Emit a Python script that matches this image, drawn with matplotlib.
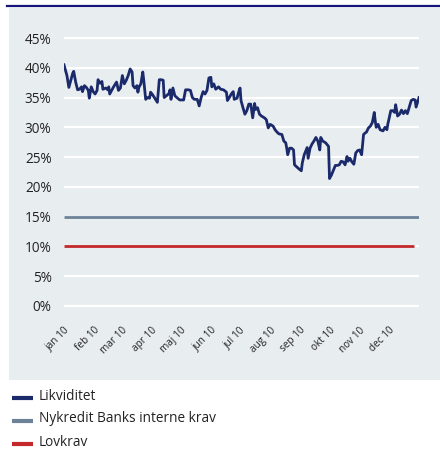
import matplotlib
matplotlib.use("Agg")
import matplotlib.pyplot as plt
from matplotlib.patches import Rectangle
from matplotlib.lines import Line2D

# ---- data ----
month_labels = ["jan 10", "feb 10", "mar 10", "apr 10", "maj 10", "jun 10",
                "jul 10", "aug 10", "sep 10", "okt 10", "nov 10", "dec 10"]
month_start_day = [0, 31, 59, 90, 120, 151, 181, 212, 243, 273, 304, 334]

likv_day = [0, 3, 5, 7, 9, 10, 12, 14, 16, 18, 19, 21, 23, 25, 26, 28, 30, 32, 34, 35,
            37, 39, 40, 43, 45, 46, 47, 49, 51, 54, 56, 58, 60, 62, 64, 66, 68, 70, 71, 73,
            75, 76, 77, 79, 81, 82, 84, 86, 88, 89, 91, 94, 96, 98, 100, 102, 103, 106, 108, 109,
            110, 112, 114, 116, 119, 123, 125, 128, 130, 132, 134, 137, 139, 141, 143, 145, 147, 149, 151, 152,
            154, 156, 159, 161, 164, 167, 168, 170, 172, 174, 175, 178, 179, 181, 182, 184, 186, 188, 190, 192,
            194, 196, 197, 199, 201, 203, 206, 208, 210, 212, 215, 217, 219, 221, 224, 226, 228, 229, 230, 232,
            234, 236, 237, 239, 241, 244, 245, 247, 249, 250, 251, 253, 255, 257, 259, 261, 263, 264, 266, 267,
            269, 272, 273, 275, 277, 279, 281, 283, 285, 287, 289, 291, 292, 294, 296, 298, 300, 302, 304, 306,
            308, 310, 311, 313, 315, 317, 319, 320, 321, 323, 325, 328, 330, 332, 333, 334, 336, 338, 340, 341,
            343, 345, 347, 349, 351, 353, 355, 357, 359, 361, 362, 365]
likv_val = [40.5, 38.7, 36.7, 37.9, 39.1, 39.4, 37.6, 36.3, 36.4, 36.8, 36.0, 37.0, 36.7, 36.2, 34.9, 36.8, 36.0, 35.6, 36.2, 38.0,
            37.4, 37.7, 36.4, 36.6, 36.3, 36.8, 35.6, 36.2, 36.8, 37.6, 36.2, 36.6, 38.7, 37.3, 37.9, 38.7, 39.8, 39.3, 37.0, 36.6,
            37.0, 35.9, 36.7, 37.3, 39.3, 37.9, 34.7, 35.0, 34.9, 35.9, 35.5, 34.7, 34.2, 38.0, 38.0, 37.9, 35.0, 35.4, 35.7, 36.3,
            34.7, 36.6, 35.3, 35.0, 34.6, 34.6, 36.3, 36.3, 36.2, 35.0, 34.7, 34.7, 33.6, 35.0, 36.0, 35.6, 36.2, 38.3, 38.4, 36.8,
            37.3, 36.4, 36.8, 36.4, 36.3, 35.9, 34.5, 35.0, 35.6, 36.0, 34.7, 34.9, 35.6, 36.6, 34.5, 33.3, 32.2, 32.8, 33.9, 33.9,
            31.6, 34.0, 33.0, 33.3, 32.2, 31.9, 31.6, 31.3, 29.9, 30.5, 30.2, 29.6, 29.2, 28.9, 28.8, 27.7, 27.4, 26.5, 25.4, 26.5,
            26.5, 26.2, 23.7, 23.4, 23.1, 22.7, 24.0, 25.4, 26.2, 26.6, 24.8, 26.5, 27.2, 27.7, 28.3, 27.7, 26.2, 28.3, 27.7, 27.6,
            27.4, 26.8, 21.4, 22.0, 22.8, 23.6, 23.6, 23.7, 24.3, 24.2, 23.7, 25.1, 24.3, 24.8, 24.2, 23.8, 25.7, 26.1, 26.2, 25.4,
            28.8, 29.1, 29.2, 29.9, 30.2, 30.8, 32.5, 31.1, 30.0, 30.5, 29.6, 29.4, 30.0, 29.6, 30.6, 31.3, 32.8, 32.8, 32.5, 33.8,
            31.9, 32.2, 32.9, 32.3, 32.8, 32.3, 33.4, 34.5, 34.7, 34.6, 33.4, 35.0]

intern_krav = 15.0
intern_span = [0, 365]
lovkrav = 10.0
lovkrav_span = [0, 360]

yticks = [0, 5, 10, 15, 20, 25, 30, 35, 40, 45]
series_names = ["Likviditet", "Nykredit Banks interne krav", "Lovkrav"]

# ---- styles ----
c_likv = "#1b2a6b"
c_intern = "#6b8299"
c_lov = "#c4282c"
c_bg = "#e8edf0"
c_top = "#16167a"
txt = "#222222"
font = "Open Sans"

fig = plt.figure(figsize=(4.4, 4.5), dpi=100)
W, H = 440, 450

# top rule and panel background
fig.add_artist(Rectangle((9 / W, 1 - 380 / H), 1 - 9 / W, (380 - 8) / H,
                         transform=fig.transFigure, facecolor=c_bg, edgecolor="none", zorder=0))
fig.add_artist(Line2D([7 / W, 1], [1 - 6.3 / H, 1 - 6.3 / H], transform=fig.transFigure,
                      color=c_top, linewidth=1.6, zorder=1))

ax = fig.add_axes([64 / W, 0.2936, (419 - 64) / W, 0.6484])
ax.set_facecolor("none")
ax.set_xlim(0, 365)
ax.set_ylim(-2, 47)
for s in ax.spines.values():
    s.set_visible(False)

for y in yticks:
    ax.axhline(y, color="white", linewidth=1.6, zorder=1)

ax.plot(intern_span, [intern_krav, intern_krav], color=c_intern, linewidth=2.0, zorder=2,
        solid_capstyle="butt")
ax.plot(lovkrav_span, [lovkrav, lovkrav], color=c_lov, linewidth=2.0, zorder=2,
        solid_capstyle="butt")
ax.plot(likv_day, likv_val, color=c_likv, linewidth=2.0, zorder=3, solid_joinstyle="round")

ax.set_yticks(yticks)
ax.set_yticklabels([f"{v}%" for v in yticks], fontsize=9.8, color=txt, family=font)
ax.tick_params(axis="y", length=0, pad=9)
ax.set_xticks(month_start_day)
ax.set_xticklabels(month_labels, rotation=45, ha="right", va="top", rotation_mode="anchor",
                   fontsize=7.2, color=txt, family=font)
ax.tick_params(axis="x", length=0, pad=5)

# legend
colors = [c_likv, c_intern, c_lov]
ys = [396, 419, 442]
for name, col, y in zip(series_names, colors, ys):
    fy = 1 - (y + 2) / H
    fig.add_artist(Line2D([12 / W, 33 / W], [fy, fy], transform=fig.transFigure,
                          color=col, linewidth=3, solid_capstyle="butt"))
    fig.text(39 / W, 1 - y / H, name, fontsize=9.8, color=txt, family=font,
             ha="left", va="center")

fig.savefig("out.png", dpi=100)
